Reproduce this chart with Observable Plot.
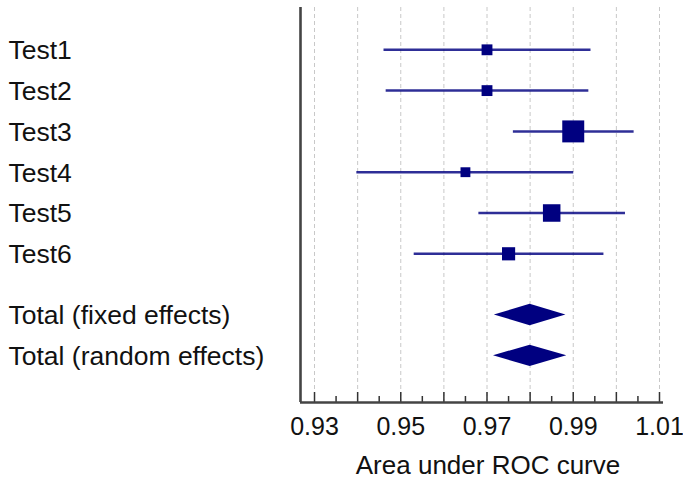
<!DOCTYPE html>
<html>
<head>
<meta charset="utf-8">
<script src="https://cdn.jsdelivr.net/npm/d3@7"></script>
<script src="https://cdn.jsdelivr.net/npm/@observablehq/plot@0.6"></script>
<style>
  html, body { margin: 0; padding: 0; background: #fff; }
  svg { display: block; }
</style>
</head>
<body>
<div id="chart"></div>
<script>
// ---- data ----
const testNames = ["Test1", "Test2", "Test3", "Test4", "Test5", "Test6"];
const testAUC   = [0.970, 0.970, 0.990, 0.965, 0.985, 0.975];
const testLow   = [0.946, 0.9465, 0.976, 0.9397, 0.968, 0.953];
const testHigh  = [0.994, 0.9935, 1.004, 0.990, 1.002, 0.997];
const testWeight = [9.1, 9.1, 37.3, 7.5, 23.7, 13.4]; // relative weights (%)

const totalNames = ["Total (fixed effects)", "Total (random effects)"];
const totalAUC   = [0.980, 0.980];
const totalLow   = [0.9717, 0.9715];
const totalHigh  = [0.9883, 0.9885];

const majorTicks = [0.93, 0.94, 0.95, 0.96, 0.97, 0.98, 0.99, 1.00, 1.01];
const minorTicks = [0.935, 0.945, 0.955, 0.965, 0.975, 0.985, 0.995, 1.005];
const tickLabels = [0.93, 0.95, 0.97, 0.99, 1.01];
const xDomain = [0.92675, 1.01093];
const xLabel = "Area under ROC curve";

// ---- tables ----
const tests = testNames.map((name, i) => ({
  name, row: i, auc: testAUC[i], low: testLow[i], high: testHigh[i], w: testWeight[i]
}));
const gap = 0.5;
const totals = totalNames.map((name, i) => ({
  name, row: testNames.length + gap + i, auc: totalAUC[i], low: totalLow[i], high: totalHigh[i]
}));
const halfH = 0.261; // diamond half-height in row units
const diamondPts = totals.flatMap(t => [
  {name: t.name, x: t.low,  y1: t.row, y2: t.row},
  {name: t.name, x: t.auc,  y1: t.row - halfH, y2: t.row + halfH},
  {name: t.name, x: t.high, y1: t.row, y2: t.row}
]);
const labels = [...tests, ...totals];

const W = 683, H = 479, mTop = 7, mBottom = 77, mLeft = 300, mRight = 20;
const plotH = H - mTop - mBottom;
const yDomain = [-1.037, 8.645];
const navy = "#000080";
const font = "'Liberation Sans', Arial, sans-serif";

const chart = Plot.plot({
  width: W, height: H,
  marginTop: mTop, marginBottom: mBottom, marginLeft: mLeft, marginRight: mRight,
  style: {fontFamily: font, background: "#fff", color: "#111"},
  x: {domain: xDomain},
  y: {domain: yDomain, reverse: true, axis: null},
  r: {type: "sqrt", domain: [0, d3.max(testWeight)], range: [0, 12.4]},
  marks: [
    // grid
    Plot.ruleX(majorTicks, {stroke: "#c8c8c8", strokeWidth: 1, strokeDasharray: "4,3"}),
    // CI lines
    Plot.link(tests, {x1: "low", x2: "high", y1: "row", y2: "row", stroke: navy, strokeOpacity: 0.82, strokeWidth: 2.5}),
    // squares
    Plot.dot(tests, {x: "auc", y: "row", r: "w", symbol: "square", fill: navy, stroke: null}),
    // diamonds
    Plot.areaY(diamondPts, {x: "x", y1: "y1", y2: "y2", z: "name", fill: navy, curve: "linear"}),
    // row labels
    Plot.text(labels, {y: "row", text: "name", frameAnchor: "left", textAnchor: "start", dx: 8 - mLeft, dy: 1, fontSize: 26.5, fill: "#111"}),
    // tick marks (pointing up)
    Plot.ruleX(majorTicks, {stroke: "#333", strokeWidth: 1.5, insetTop: plotH - 10}),
    Plot.ruleX(minorTicks, {stroke: "#333", strokeWidth: 1.5, insetTop: plotH - 6}),
    // axis lines
    Plot.ruleX([xDomain[0]], {stroke: "#444", strokeWidth: 2.6}),
    Plot.ruleY([yDomain[1]], {stroke: "#444", strokeWidth: 2.6}),
    // tick labels
    Plot.axisX({
      ticks: tickLabels, tickSize: 0, tickPadding: 15, tickFormat: d3.format(".2f"),
      fontSize: 25, label: null
    }),
    // axis label
    Plot.text([xLabel], {
      text: d => d, frameAnchor: "bottom", lineAnchor: "bottom", textAnchor: "middle",
      dx: 6, dy: 71, fontSize: 26, fill: "#111"
    })
  ]
});
document.getElementById("chart").appendChild(chart);
</script>
</body>
</html>
